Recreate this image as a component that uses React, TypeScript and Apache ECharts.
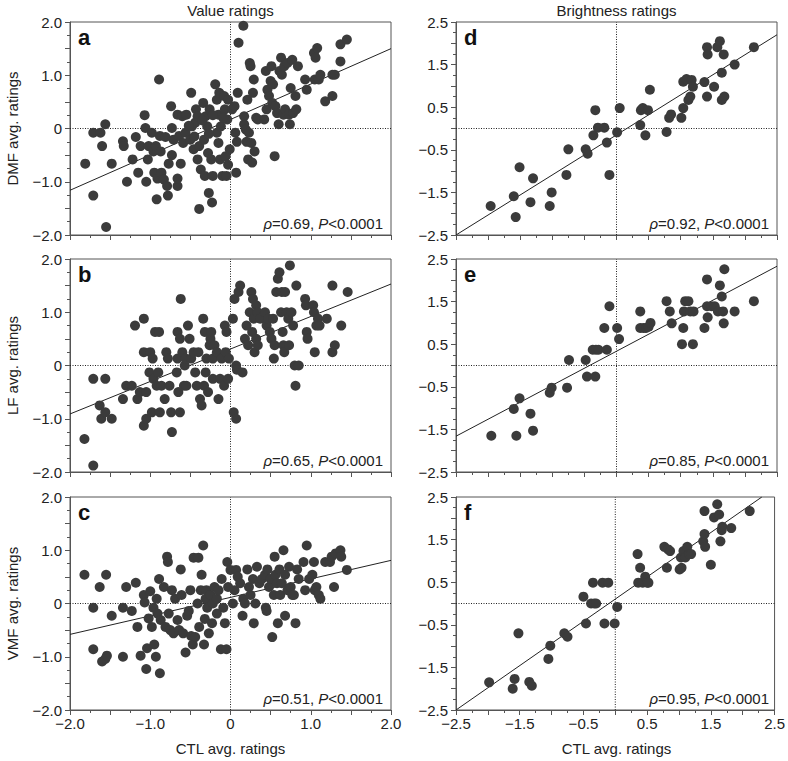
import React, { useEffect, useRef } from "react";
import * as echarts from "echarts";

const FONT = '"Liberation Sans", Arial, Helvetica, sans-serif';
const TEXT = "#222";
const AXIS = "#555";
const DOT = "#3b3b3b";

// Panel a: Value ratings, DMF vs CTL
const ptsA: number[][] = [
  [-1.81,-0.66],[-1.71,-1.26],[-1.71,-0.08],[-1.62,-0.08],[-1.60,-0.33],[-1.56,0.08],[-1.55,-1.85],[-1.48,-0.66],
  [-1.34,-0.24],[-1.33,-0.33],[-1.29,-1.0],[-1.22,-0.58],[-1.18,-0.16],[-1.15,-0.83],[-1.12,-0.33],[-1.07,0.25],
  [-1.06,0.01],[-1.05,-1.0],[-1.03,-0.58],[-1.02,-0.33],[-0.98,-0.08],[-0.96,-0.43],[-0.95,-0.83],[-0.93,-0.33],
  [-0.92,-1.33],[-0.91,-0.94],[-0.89,0.92],[-0.88,-0.14],[-0.87,-0.43],[-0.86,-0.83],[-0.83,-0.96],[-0.81,-0.16],
  [-0.79,-1.08],[-0.78,-1.26],[-0.77,-0.66],[-0.74,0.42],[-0.73,0.01],[-0.73,-0.5],[-0.71,-0.21],[-0.66,-1.08],
  [-0.66,-0.94],[-0.66,0.26],[-0.64,-0.14],[-0.62,-0.66],[-0.60,0.23],[-0.59,-0.27],[-0.56,-0.08],[-0.55,0.26],
  [-0.49,0.67],[-0.50,-0.21],[-0.48,0.04],[-0.46,-0.39],[-0.44,0.11],[-0.43,0.36],[-0.41,0.23],[-0.41,-0.58],
  [-0.39,-1.51],[-0.39,-0.33],[-0.37,-0.77],[-0.34,0.48],[-0.33,-0.21],[-0.32,-0.89],[-0.31,0.23],[-0.29,0.04],
  [-0.28,-0.46],[-0.27,-1.21],[-0.26,0.36],[-0.24,-0.58],[-0.23,-1.39],[-0.22,-0.89],[-0.19,0.83],[-0.17,-0.08],
  [-0.17,0.54],[-0.15,0.26],[-0.15,-0.27],[-0.14,0.67],[-0.13,-0.58],[-0.12,0.04],[-0.10,-0.89],[-0.08,0.61],
  [-0.07,0.36],[-0.06,-0.52],[-0.05,-0.89],[-0.04,0.17],[-0.03,0.54],[-0.03,-0.68],[-0.01,-0.39],[0.02,0.36],
  [0.05,0.42],[0.06,-0.08],[0.07,-0.83],[0.08,-0.25],[0.09,0.67],[0.10,1.61],[0.16,1.93],[0.17,0.23],
  [0.17,0.08],[0.19,-0.02],[0.20,-0.25],[0.21,0.54],[0.22,-0.58],[0.23,-0.08],[0.24,1.23],[0.25,1.17],
  [0.26,-0.27],[0.27,-0.64],[0.28,0.67],[0.29,0.92],[0.30,-0.43],[0.32,0.2],[0.34,0.17],[0.42,0.17],
  [0.44,1.08],[0.45,0.36],[0.46,0.73],[0.48,0.61],[0.50,0.89],[0.51,1.17],[0.52,0.48],[0.53,0.83],
  [0.55,-0.52],[0.56,0.42],[0.58,0.29],[0.60,0.08],[0.61,1.08],[0.63,1.33],[0.64,1.01],[0.66,0.26],
  [0.67,1.17],[0.68,0.36],[0.71,1.23],[0.73,0.26],[0.74,0.08],[0.75,0.76],[0.77,1.29],[0.78,0.29],
  [0.81,0.61],[0.82,0.36],[0.84,1.17],[0.93,0.92],[0.95,0.73],[1.04,1.42],[1.05,0.92],[1.06,1.33],
  [1.08,1.51],[1.10,0.92],[1.12,1.01],[1.18,0.51],[1.27,0.61],[1.27,1.01],[1.30,1.01],[1.37,1.26],
  [1.37,1.58],[1.45,1.67],
  [-0.35,0.15],[-0.22,0.25],[-0.09,0.2],[-0.52,0.05],[-0.27,-0.1],[-0.45,-0.15]
];

// Panel b: Value ratings, LF vs CTL
const ptsB: number[][] = [
  [-1.82,-1.38],[-1.71,-1.88],[-1.71,-0.25],[-1.56,-0.25],[-1.63,-0.75],[-1.61,-1.0],[-1.56,-0.88],[-1.48,-1.0],
  [-1.34,-0.63],[-1.30,-0.38],[-1.23,-0.38],[-1.19,0.75],[-1.16,-0.63],[-1.13,-0.5],[-1.08,0.88],[-1.08,0.25],
  [-1.08,-1.13],[-1.05,-1.0],[-1.05,-0.5],[-1.01,-0.13],[-1.00,0.25],[-0.98,-0.88],[-0.97,0.13],[-0.96,-0.25],
  [-0.94,0.63],[-0.92,-0.38],[-0.90,-0.13],[-0.89,0.63],[-0.88,-0.88],[-0.86,-0.38],[-0.82,-0.63],[-0.80,0.25],
  [-0.78,0.13],[-0.76,-0.38],[-0.74,-0.88],[-0.73,-1.25],[-0.67,-0.13],[-0.66,0.13],[-0.66,0.63],[-0.65,-0.5],
  [-0.63,0.5],[-0.63,-0.88],[-0.62,1.25],[-0.60,0.25],[-0.58,-0.38],[-0.57,0],[-0.56,0.13],[-0.55,-0.38],
  [-0.53,0.75],[-0.51,0.5],[-0.49,0.13],[-0.46,0.25],[-0.44,-0.13],[-0.42,-0.38],[-0.40,0.25],[-0.38,-0.63],
  [-0.36,-0.75],[-0.34,0.88],[-0.33,-0.38],[-0.32,0.63],[-0.31,-0.13],[-0.30,0.13],[-0.28,-0.5],[-0.26,0.38],
  [-0.25,0.5],[-0.24,0.63],[-0.22,-0.25],[-0.22,0.13],[-0.20,0.38],[-0.17,0.25],[-0.15,-0.63],[-0.13,-0.25],
  [-0.11,0.13],[-0.08,-0.38],[-0.07,0.75],[-0.06,0.25],[-0.05,0.63],[-0.03,-0.25],[-0.02,0.13],[0.03,0.88],
  [0.04,-0.88],[0.05,1.25],[0.07,0],[0.07,-1.0],[0.08,-0.08],[0.10,1.38],[0.12,1.5],[0.15,-0.13],
  [0.18,0.5],[0.20,0.75],[0.22,0.38],[0.24,1.0],[0.26,1.38],[0.27,0.63],[0.28,1.25],[0.29,0.88],
  [0.30,0.25],[0.32,1.13],[0.32,0.5],[0.34,1.0],[0.34,0.38],[0.37,0.88],[0.43,1.0],[0.45,0.75],
  [0.47,0.88],[0.49,0.63],[0.51,0.5],[0.53,0.88],[0.54,0.13],[0.55,0.38],[0.57,1.38],[0.59,1.63],
  [0.61,1.75],[0.63,1.0],[0.64,1.38],[0.65,0.63],[0.66,0.38],[0.67,0.25],[0.68,1.38],[0.70,1.0],
  [0.72,0.88],[0.73,0.38],[0.74,1.88],[0.76,1.0],[0.78,0.75],[0.80,0],[0.81,-0.38],[0.82,1.5],
  [0.85,0],[0.93,1.25],[0.94,1.13],[0.95,0.63],[0.96,0.5],[1.03,1.13],[1.04,1.0],[1.05,0.25],
  [1.07,0.75],[1.09,0.88],[1.11,0.75],[1.20,0.88],[1.27,0.25],[1.30,0.38],[1.27,1.5],[1.38,0.75],
  [1.46,1.38]
];

// Panel c: Value ratings, VMF vs CTL
const ptsC: number[][] = [
  [-1.82,0.54],[-1.71,-0.08],[-1.71,-0.86],[-1.63,0.31],[-1.60,-1.09],[-1.56,-1.04],[-1.55,0.54],[-1.54,-0.98],
  [-1.48,-0.23],[-1.34,-1.0],[-1.34,-0.08],[-1.30,0.31],[-1.23,-0.14],[-1.18,0.39],[-1.16,-0.44],[-1.12,-0.98],
  [-1.08,0.16],[-1.07,0.02],[-1.05,-1.23],[-1.04,-0.84],[-1.02,-0.28],[-1.00,0.23],[-0.98,-0.44],[-0.96,-0.08],
  [-0.95,-0.77],[-0.93,-1.0],[-0.92,0.09],[-0.91,-0.19],[-0.89,0.46],[-0.88,-1.31],[-0.87,-0.31],[-0.83,0.31],
  [-0.81,-0.44],[-0.79,0.88],[-0.78,0.78],[-0.77,-0.19],[-0.75,-0.5],[-0.73,0.25],[-0.71,-0.56],[-0.69,0.09],
  [-0.66,-0.31],[-0.64,-0.5],[-0.62,0.64],[-0.61,0.16],[-0.59,-0.56],[-0.56,-0.92],[-0.54,-0.23],[-0.52,-0.14],
  [-0.50,0.25],[-0.49,-0.61],[-0.47,-0.77],[-0.46,0.86],[-0.44,-0.63],[-0.41,0],[-0.40,0.86],[-0.39,-0.44],
  [-0.37,0.25],[-0.36,0.54],[-0.34,1.09],[-0.33,-0.77],[-0.32,-0.29],[-0.31,0.09],[-0.30,0.25],[-0.29,-0.08],
  [-0.27,-0.56],[-0.25,0.16],[-0.23,-0.37],[-0.22,0],[-0.20,0.31],[-0.17,-0.19],[-0.17,0.09],[-0.15,0.25],
  [-0.12,-0.86],[-0.11,0.46],[-0.09,-0.08],[-0.07,-0.37],[-0.05,-0.86],[-0.04,0.78],[-0.03,0.31],[0,0.63],
  [0.03,0],[0.05,0.25],[0.07,0.63],[0.09,0.5],[0.12,0.38],[0.15,-0.23],[0.16,0.09],[0.18,0],
  [0.21,0.64],[0.23,0.31],[0.25,0.16],[0.28,0.46],[0.29,-0.37],[0.31,0],[0.33,0.69],[0.36,0.38],
  [0.39,0.46],[0.43,0.54],[0.44,-0.08],[0.45,-0.14],[0.46,0.64],[0.48,0.31],[0.50,0.46],[0.52,-0.63],
  [0.54,0.16],[0.55,0.88],[0.56,0.54],[0.58,0.38],[0.59,-0.37],[0.61,0.64],[0.62,0.16],[0.64,0.38],
  [0.66,1.0],[0.68,-0.23],[0.68,0.54],[0.71,0.25],[0.73,0.69],[0.75,0.31],[0.77,0.16],[0.79,0.16],
  [0.81,-0.37],[0.83,0.64],[0.85,0.46],[0.91,0.78],[0.93,0.25],[0.95,1.09],[0.98,0.46],[1.02,0.54],
  [1.04,0.78],[1.05,0.25],[1.07,0.31],[1.10,0.16],[1.12,0.09],[1.18,0.78],[1.24,0.78],[1.26,0.88],
  [1.29,0.31],[1.31,0.94],[1.37,1.0],[1.38,0.88],[1.45,0.63]
];

// Panel d: Brightness ratings, DMF vs CTL
const ptsD: number[][] = [
  [-1.96,-1.82],[-1.60,-1.59],[-1.57,-2.08],[-1.51,-0.91],[-1.34,-1.73],[-1.30,-1.17],[-1.04,-1.82],[-1.01,-1.5],
  [-0.78,-1.09],[-0.75,-0.49],[-0.48,-0.49],[-0.45,-0.59],[-0.36,-0.16],[-0.33,0.43],[-0.29,0.02],[-0.19,0.02],
  [-0.15,-0.33],[-0.11,-1.09],[0.01,-0.09],[0.05,0.48],[0.37,0.08],[0.38,0.43],[0.41,0.48],[0.45,-0.16],
  [0.49,0.43],[0.52,0.91],[0.78,-0.08],[0.82,0.25],[0.85,0.33],[1.01,0.25],[1.04,0.48],[1.04,1.1],
  [1.09,1.16],[1.12,0.67],[1.15,0.75],[1.17,1.14],[1.19,0.98],[1.37,1.09],[1.41,0.75],[1.41,1.91],
  [1.42,1.74],[1.52,0.98],[1.57,1.91],[1.61,2.05],[1.64,1.31],[1.64,0.67],[1.67,1.74],[1.68,0.75],
  [1.84,1.5],[2.14,1.91]
];

// Panel e: Brightness ratings, LF vs CTL
const ptsE: number[][] = [
  [-1.95,-1.65],[-1.60,-1.02],[-1.56,-1.65],[-1.51,-0.77],[-1.34,-1.13],[-1.30,-1.53],[-1.04,-0.64],[-1.01,-0.52],
  [-0.77,-0.52],[-0.74,0.13],[-0.48,0.13],[-0.46,-0.26],[-0.37,0.37],[-0.32,0.37],[-0.33,-0.26],[-0.28,0.37],
  [-0.19,0.88],[-0.15,0.37],[-0.11,1.39],[0.01,0.88],[0.04,0.62],[0.37,1.27],[0.37,0.88],[0.42,0.88],
  [0.46,0.88],[0.50,0.91],[0.53,1.0],[0.78,1.51],[0.83,1.27],[0.86,0.99],[1.02,0.5],[1.04,0.88],
  [1.05,1.27],[1.07,1.51],[1.12,1.51],[1.15,1.27],[1.19,0.5],[1.20,1.27],[1.37,0.88],[1.41,2.02],
  [1.41,1.39],[1.42,1.13],[1.48,1.39],[1.53,1.39],[1.58,1.27],[1.61,1.88],[1.64,1.62],[1.66,1.27],
  [1.67,0.99],[1.68,2.26],[1.84,1.27],[2.14,1.51]
];

// Panel f: Brightness ratings, VMF vs CTL
const ptsF: number[][] = [
  [-1.98,-1.85],[-1.58,-1.77],[-1.61,-2.0],[-1.52,-0.70],[-1.35,-1.84],[-1.31,-1.93],[-1.05,-1.30],[-1.02,-0.99],
  [-0.80,-0.70],[-0.75,-0.78],[-0.50,0.16],[-0.46,-0.47],[-0.38,0],[-0.35,0.49],[-0.33,0],[-0.30,0],
  [-0.20,0.49],[-0.17,-0.47],[-0.11,0.49],[-0.01,-0.47],[0.03,-0.08],[0.35,1.16],[0.36,0.49],[0.39,0.84],
  [0.43,0.49],[0.47,0.63],[0.50,0.49],[0.52,0.49],[0.77,1.33],[0.81,0.84],[0.83,1.27],[0.86,1.23],
  [1.01,0.80],[1.03,1.08],[1.04,0.84],[1.07,1.23],[1.10,1.08],[1.13,1.33],[1.16,1.16],[1.19,1.16],
  [1.38,1.46],[1.40,2.17],[1.40,1.63],[1.41,1.33],[1.50,0.91],[1.55,2.02],[1.60,2.33],[1.63,2.09],
  [1.65,1.46],[1.67,1.72],[1.68,1.80],[1.82,1.77],[2.11,2.17]
];

// Fitted lines (endpoints)
const lineA = [[-2, -1.16], [2, 1.5]];
const lineB = [[-2, -0.91], [2, 1.53]];
const lineC = [[-2, -0.58], [2, 0.81]];
const lineD = [[-2.5, -2.5], [2.5, 2.2]];
const lineE = [[-2.5, -1.66], [2.5, 2.33]];
const lineF = [[-2.5, -2.5], [2.3, 2.5]];

const rhos = ["0.69", "0.65", "0.51", "0.92", "0.85", "0.95"];
const letters = ["a", "b", "c", "d", "e", "f"];
const yNames = ["DMF avg. ratings", "LF avg. ratings", "VMF avg. ratings"];
const colTitles = ["Value ratings", "Brightness ratings"];
const xName = "CTL avg. ratings";

const COL_LEFT = [70, 456];
const PW = 321;
const ROW_TOP = [22, 259, 497];
const PH = 213;

function fmtNum(v: number): string {
  if (Math.abs(v) < 1e-9) return "0";
  return (v < 0 ? "\u2212" : "") + Math.abs(v).toFixed(1);
}
function leftFmt(v: number): string {
  return Math.abs(v - Math.round(v)) < 1e-6 ? fmtNum(v) : "";
}
function rightFmt(v: number): string {
  const h = Math.round(v * 2);
  return Math.abs(h) % 2 === 1 ? fmtNum(v) : "";
}

export default function App() {
  const ref = useRef<HTMLDivElement>(null);
  useEffect(() => {
    if (!ref.current) return;
    const chart = echarts.init(ref.current, null, { renderer: "svg" });
    const panels = [
      { pts: ptsA, line: lineA, col: 0, row: 0 },
      { pts: ptsB, line: lineB, col: 0, row: 1 },
      { pts: ptsC, line: lineC, col: 0, row: 2 },
      { pts: ptsD, line: lineD, col: 1, row: 0 },
      { pts: ptsE, line: lineE, col: 1, row: 1 },
      { pts: ptsF, line: lineF, col: 1, row: 2 },
    ];
    const grids: any[] = [];
    const xAxes: any[] = [];
    const yAxes: any[] = [];
    const series: any[] = [];
    const graphic: any[] = [];
    const tickStyle = { color: AXIS, width: 1 };
    panels.forEach((p, i) => {
      const lim = p.col === 0 ? 2 : 2.5;
      const left = COL_LEFT[p.col];
      const top = ROW_TOP[p.row];
      grids.push({ left, top, width: PW, height: PH, show: true, borderColor: AXIS, borderWidth: 1, backgroundColor: "transparent" });
      const fmt = p.col === 0 ? leftFmt : rightFmt;
      const common = {
        gridIndex: i, type: "value", min: -lim, max: lim, interval: 0.5,
        axisLine: { show: true, onZero: false, lineStyle: { color: AXIS, width: 1 } },
        axisTick: { show: true, length: 5, lineStyle: tickStyle },
        minorTick: { show: true, splitNumber: 2, length: 3, lineStyle: tickStyle },
        splitLine: { show: false },
        minorSplitLine: { show: false },
      };
      xAxes.push({
        ...common,
        axisLabel: { show: p.row === 2, formatter: fmt, color: TEXT, fontSize: 15, fontFamily: FONT, margin: 6, showMinLabel: true, showMaxLabel: true },
      });
      yAxes.push({
        ...common,
        axisLabel: { show: true, formatter: fmt, color: TEXT, fontSize: 15, fontFamily: FONT, margin: 8, showMinLabel: true, showMaxLabel: true },
      });
      const base = { xAxisIndex: i, yAxisIndex: i, silent: true, animation: false };
      series.push({ ...base, type: "line", data: [[0, -lim], [0, lim]], symbol: "none", z: 1, lineStyle: { color: "#222", width: 1, type: [1, 1.5] } });
      series.push({ ...base, type: "line", data: [[-lim, 0], [lim, 0]], symbol: "none", z: 1, lineStyle: { color: "#222", width: 1, type: [1, 1.5] } });
      series.push({ ...base, type: "line", data: p.line, symbol: "none", z: 2, clip: true, lineStyle: { color: "#222", width: 1 } });
      series.push({ ...base, type: "scatter", data: p.pts, symbol: "circle", symbolSize: 10, z: 3, itemStyle: { color: DOT, opacity: 1 } });

      graphic.push({
        type: "text", left: left + 8, top: top + 4, silent: true,
        style: { text: letters[i], fontSize: 22, fontWeight: "bold", fontFamily: FONT, fill: "#111" },
      });
      graphic.push({
        type: "text", x: left + PW - 8, y: top + PH - 12, silent: true,
        style: {
          text: "{i|\u03c1}=" + rhos[i] + ", {i|P}<0.0001",
          align: "right", verticalAlign: "middle",
          fontSize: 15, fontFamily: FONT, fill: TEXT,
          rich: { i: { fontStyle: "italic", fontSize: 15, fontFamily: FONT, fill: TEXT } },
        },
      });
    });
    colTitles.forEach((t, c) => {
      graphic.push({
        type: "text", x: COL_LEFT[c] + PW / 2, y: 10, silent: true,
        style: { text: t, align: "center", verticalAlign: "middle", fontSize: 15, fontFamily: FONT, fill: TEXT },
      });
      graphic.push({
        type: "text", x: COL_LEFT[c] + PW / 2, y: 748, silent: true,
        style: { text: xName, align: "center", verticalAlign: "middle", fontSize: 15, fontFamily: FONT, fill: TEXT },
      });
    });
    yNames.forEach((t, r) => {
      graphic.push({
        type: "text", x: 12, y: ROW_TOP[r] + PH / 2, rotation: Math.PI / 2, silent: true,
        style: { text: t, align: "center", verticalAlign: "middle", fontSize: 15, fontFamily: FONT, fill: TEXT },
      });
    });

    chart.setOption({
      animation: false,
      backgroundColor: "#fff",
      grid: grids,
      xAxis: xAxes,
      yAxis: yAxes,
      series,
      graphic,
    });
    return () => chart.dispose();
  }, []);
  return <div ref={ref} style={{ position: "absolute", left: 0, top: 0, width: 788, height: 761 }} />;
}
